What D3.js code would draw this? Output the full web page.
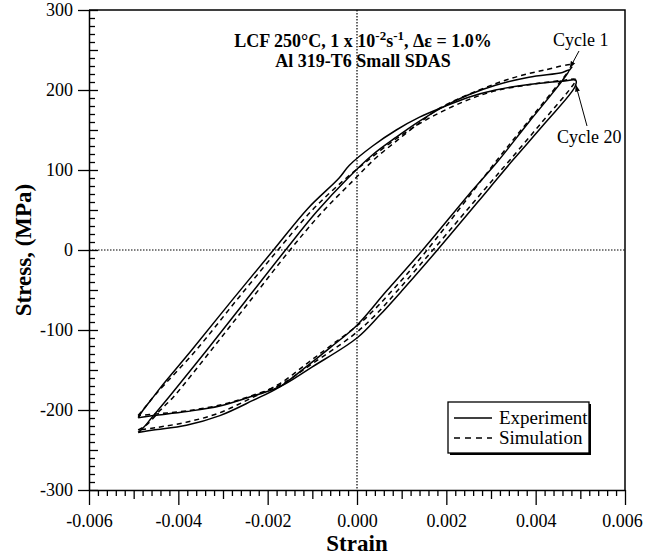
<!DOCTYPE html>
<html>
<head>
<meta charset="utf-8">
<script src="https://cdn.jsdelivr.net/npm/d3@7"></script>
<style>
  body { margin: 0; background: #fff; }
  svg { display: block; }
  text { font-family: "Liberation Serif", "Times New Roman", "DejaVu Serif", serif; fill: #000; }
</style>
</head>
<body>
<svg id="chart" width="646" height="556"></svg>
<script>
// ---------- data ----------
const xTicks = [-0.006, -0.004, -0.002, 0, 0.002, 0.004, 0.006];
const xTickLabels = ["-0.006", "-0.004", "-0.002", "0.000", "0.002", "0.004", "0.006"];
const yTicks = [-300, -200, -100, 0, 100, 200, 300];
const yTickLabels = ["-300", "-200", "-100", "0", "100", "200", "300"];

// Cycle 1, experiment (loading branch then unloading branch)
const cycle1ExpStrain = [-0.0049, -0.00478, -0.0046, -0.0042, -0.00336, -0.0025, -0.0016, -0.0009, -0.0002, 0.00035, 0.00088, 0.0014, 0.0019, 0.0025, 0.0031, 0.00385, 0.0046, 0.00475,
                         0.0046, 0.00385, 0.00311, 0.00259, 0.00147, 0.00065, 0.0, -0.0006, -0.00114, -0.00173, -0.00233, -0.00307, -0.00382, -0.00456, -0.0049];
const cycle1ExpStress = [-228, -222, -210, -183, -125, -64, 0, 48, 90, 119, 141, 161, 178, 194, 206, 216, 222, 225,
                         212, 160, 108, 75, 0, -52, -94, -122, -146, -171, -188, -207, -219, -225, -228];

// Cycle 20, experiment
const cycle20ExpStrain = [-0.0049, -0.0048, -0.00455, -0.0044, -0.0037, -0.0028, -0.00187, -0.0011, -0.0004, -0.00017, 0.00035, 0.00088, 0.0014, 0.0019, 0.0025, 0.0031, 0.00385, 0.0046, 0.0049,
                          0.00488, 0.0042, 0.0035, 0.00296, 0.0018, 0.00102, 0.0005, 0.0, -0.001, -0.00173, -0.00233, -0.00307, -0.00382, -0.00456, -0.0049];
const cycle20ExpStress = [-209.6, -201, -183, -172, -125, -63, 0, 52, 90, 106, 130, 150, 166, 178, 191, 200, 207, 211, 212,
                          204, 158, 113, 77, 0, -50, -82, -110, -146, -171, -182.5, -195, -202, -207, -209.6];

// Cycle 1, simulation
const cycle1SimStrain = [-0.0049, -0.0047, -0.0044, -0.0041, -0.00326, -0.0024, -0.0015, -0.0008, -0.0001, 0.0004, 0.0009, 0.0014, 0.00184, 0.00274, 0.00348, 0.0042, 0.00482,
                         0.0047, 0.00395, 0.0032, 0.00157, 0.0008, 0.0001, -0.0006, -0.0011, -0.0017, -0.0024, -0.0031, -0.0038, -0.0045, -0.0049];
const cycle1SimStress = [-225, -218, -200, -183, -125, -64, 0, 46, 86, 114, 137, 159, 177, 200, 215, 225, 231,
                         221, 169, 117, 0, -50, -90, -120, -141, -166, -186, -204, -215, -222, -225];

// Cycle 20, simulation
const cycle20SimStrain = [-0.0049, -0.00478, -0.0045, -0.0036, -0.0027, -0.00177, -0.001, -0.0003, 0.0002, 0.0008, 0.0014, 0.0019, 0.0025, 0.0031, 0.0039, 0.0046, 0.0049,
                          0.00482, 0.0041, 0.0034, 0.00286, 0.0017, 0.00092, 0.0004, -0.0001, -0.001, -0.0017, -0.0023, -0.003, -0.0038, -0.0045, -0.0049];
const cycle20SimStress = [-207, -199, -180, -125, -63, 0, 50, 87, 110, 136, 158, 173, 188, 199, 207, 212, 213,
                          205, 157, 111, 76, 0, -50, -82, -107, -142, -168, -181, -193, -201, -205, -207];

const seriesNames = ["Experiment", "Simulation"];

// ---------- layout ----------
const FONT = "'Liberation Serif', 'Times New Roman', 'DejaVu Serif', serif";
const svg = d3.select("#chart");
const L = 89, R = 625, T = 10, B = 490;
const x = d3.scaleLinear().domain([-0.006, 0.006]).range([L, R]);
const y = d3.scaleLinear().domain([-300, 300]).range([B, T]);

svg.append("rect").attr("width", 646).attr("height", 556).attr("fill", "#fff");

// zero reference lines (dotted)
svg.append("line").attr("x1", x(0)).attr("x2", x(0)).attr("y1", T).attr("y2", B)
  .attr("stroke", "#000").attr("stroke-width", 1.2).attr("stroke-dasharray", "1.5,1.5");
svg.append("line").attr("x1", L).attr("x2", R).attr("y1", y(0)).attr("y2", y(0))
  .attr("stroke", "#000").attr("stroke-width", 1.2).attr("stroke-dasharray", "1.5,1.5");

// frame (top & right)
svg.append("path").attr("d", `M${L},${T}H${R}V${B}`).attr("fill", "none").attr("stroke", "#000").attr("stroke-width", 1.5);

function styleAxis(g) {
  g.attr("font-family", FONT).attr("font-size", 18);
  g.selectAll("line").attr("stroke", "#000").attr("stroke-width", 1.3);
  g.selectAll("path.domain").attr("stroke", "#000").attr("stroke-width", 1.5);
  g.selectAll("text").attr("font-family", FONT).attr("font-size", 18).attr("fill", "#000");
}

// ---------- x axis ----------
const xMinorVals = d3.range(-30, 31).filter(i => i % 5 !== 0).map(i => i * 0.0002);
const xMidVals = d3.range(-6, 7).filter(i => i % 2 !== 0).map(i => i * 0.001);

svg.append("g").attr("transform", `translate(0,${B})`)
  .call(d3.axisBottom(x).tickValues(xMinorVals).tickSize(6).tickSizeOuter(0).tickFormat(""))
  .call(styleAxis);
svg.append("g").attr("transform", `translate(0,${B})`)
  .call(d3.axisBottom(x).tickValues(xMidVals).tickSize(9).tickSizeOuter(0).tickFormat(""))
  .call(g => g.select(".domain").remove())
  .call(styleAxis);
svg.append("g").attr("transform", `translate(0,${B})`)
  .call(d3.axisBottom(x).tickValues(xTicks).tickSize(15).tickSizeOuter(0).tickPadding(9)
        .tickFormat((d, i) => xTickLabels[i]))
  .call(g => g.select(".domain").remove())
  .call(styleAxis)
  .call(g => g.selectAll(".tick text").filter(d => d === 0.006).attr("dx", -3));

// ---------- y axis ----------
const yMinorVals = d3.range(-30, 31).filter(i => i % 5 !== 0).map(i => i * 10);
const yMidVals = d3.range(-6, 7).filter(i => i % 2 !== 0).map(i => i * 50);

svg.append("g").attr("transform", `translate(${L},0)`)
  .call(d3.axisRight(y).tickValues(yMinorVals).tickSize(6).tickSizeOuter(0).tickFormat(""))
  .call(styleAxis);
svg.append("g").attr("transform", `translate(${L},0)`)
  .call(d3.axisRight(y).tickValues(yMidVals.concat(yTicks)).tickSize(9).tickSizeOuter(0).tickFormat(""))
  .call(g => g.select(".domain").remove())
  .call(styleAxis);
svg.append("g").attr("transform", `translate(${L},0)`)
  .call(d3.axisLeft(y).tickValues(yTicks).tickSize(11).tickSizeOuter(0).tickPadding(5)
        .tickFormat((d, i) => yTickLabels[i]))
  .call(g => g.select(".domain").remove())
  .call(styleAxis);

// axis titles
svg.append("text").attr("x", x(0)).attr("y", 551).attr("text-anchor", "middle")
  .attr("font-family", FONT).attr("font-size", 23).attr("font-weight", "bold").text("Strain");
svg.append("text").attr("transform", `translate(31,${y(0)}) rotate(-90)`).attr("text-anchor", "middle")
  .attr("font-family", FONT).attr("font-size", 23).attr("font-weight", "bold").text("Stress, (MPa)");

// ---------- curves ----------
const line = d3.line().x(d => x(d[0])).y(d => y(d[1])).curve(d3.curveCatmullRom.alpha(0.5));
const zip = (a, b) => a.map((v, i) => [v, b[i]]);

const curves = [
  { pts: zip(cycle1ExpStrain, cycle1ExpStress), dash: null },
  { pts: zip(cycle20ExpStrain, cycle20ExpStress), dash: null },
  { pts: zip(cycle1SimStrain, cycle1SimStress), dash: "5,4" },
  { pts: zip(cycle20SimStrain, cycle20SimStress), dash: "5,4" }
];
svg.append("g").selectAll("path").data(curves).join("path")
  .attr("d", d => line(d.pts))
  .attr("fill", "none").attr("stroke", "#000").attr("stroke-width", 1.5)
  .attr("stroke-dasharray", d => d.dash);

// ---------- annotations ----------
const hdr = svg.append("text").attr("x", 363).attr("y", 47).attr("text-anchor", "middle")
  .attr("font-family", FONT).attr("font-size", 18).attr("font-weight", "bold");
hdr.append("tspan").text("LCF 250°C, 1 x 10");
hdr.append("tspan").attr("dy", -7).attr("font-size", 13).text("-2");
hdr.append("tspan").attr("dy", 7).text("s");
hdr.append("tspan").attr("dy", -7).attr("font-size", 13).text("-1");
hdr.append("tspan").attr("dy", 7).text(", Δε = 1.0%");
svg.append("text").attr("x", 363).attr("y", 67).attr("text-anchor", "middle")
  .attr("font-family", FONT).attr("font-size", 18).attr("font-weight", "bold").text("Al 319-T6 Small SDAS");

svg.append("defs").append("marker").attr("id", "arr").attr("viewBox", "0 0 10 10")
  .attr("refX", 9).attr("refY", 5).attr("markerWidth", 7).attr("markerHeight", 7).attr("orient", "auto")
  .attr("markerUnits", "userSpaceOnUse")
  .append("path").attr("d", "M0,1.5L10,5L0,8.5Z").attr("fill", "#000");

svg.append("text").attr("x", 553).attr("y", 46).attr("font-family", FONT).attr("font-size", 18).text("Cycle 1");
svg.append("line").attr("x1", 579).attr("y1", 51).attr("x2", x(0.00477)).attr("y2", y(228))
  .attr("stroke", "#000").attr("stroke-width", 1).attr("marker-end", "url(#arr)");
svg.append("text").attr("x", 557).attr("y", 143).attr("font-family", FONT).attr("font-size", 18).text("Cycle 20");
svg.append("line").attr("x1", 587).attr("y1", 126).attr("x2", x(0.0049)).attr("y2", y(206))
  .attr("stroke", "#000").attr("stroke-width", 1).attr("marker-end", "url(#arr)");

// ---------- legend ----------
const lg = svg.append("g");
lg.append("rect").attr("x", 450).attr("y", 404).attr("width", 141).attr("height", 51).attr("fill", "#000");
lg.append("rect").attr("x", 448).attr("y", 402).attr("width", 141).attr("height", 51)
  .attr("fill", "#fff").attr("stroke", "#000").attr("stroke-width", 1.3);
seriesNames.forEach((name, i) => {
  const yy = 418 + i * 20;
  lg.append("line").attr("x1", 454).attr("x2", 492).attr("y1", yy).attr("y2", yy)
    .attr("stroke", "#000").attr("stroke-width", 1.5).attr("stroke-dasharray", i ? "6,5" : null);
  lg.append("text").attr("x", 499).attr("y", yy + 6).attr("font-family", FONT).attr("font-size", 19).text(name);
});
</script>
</body>
</html>
